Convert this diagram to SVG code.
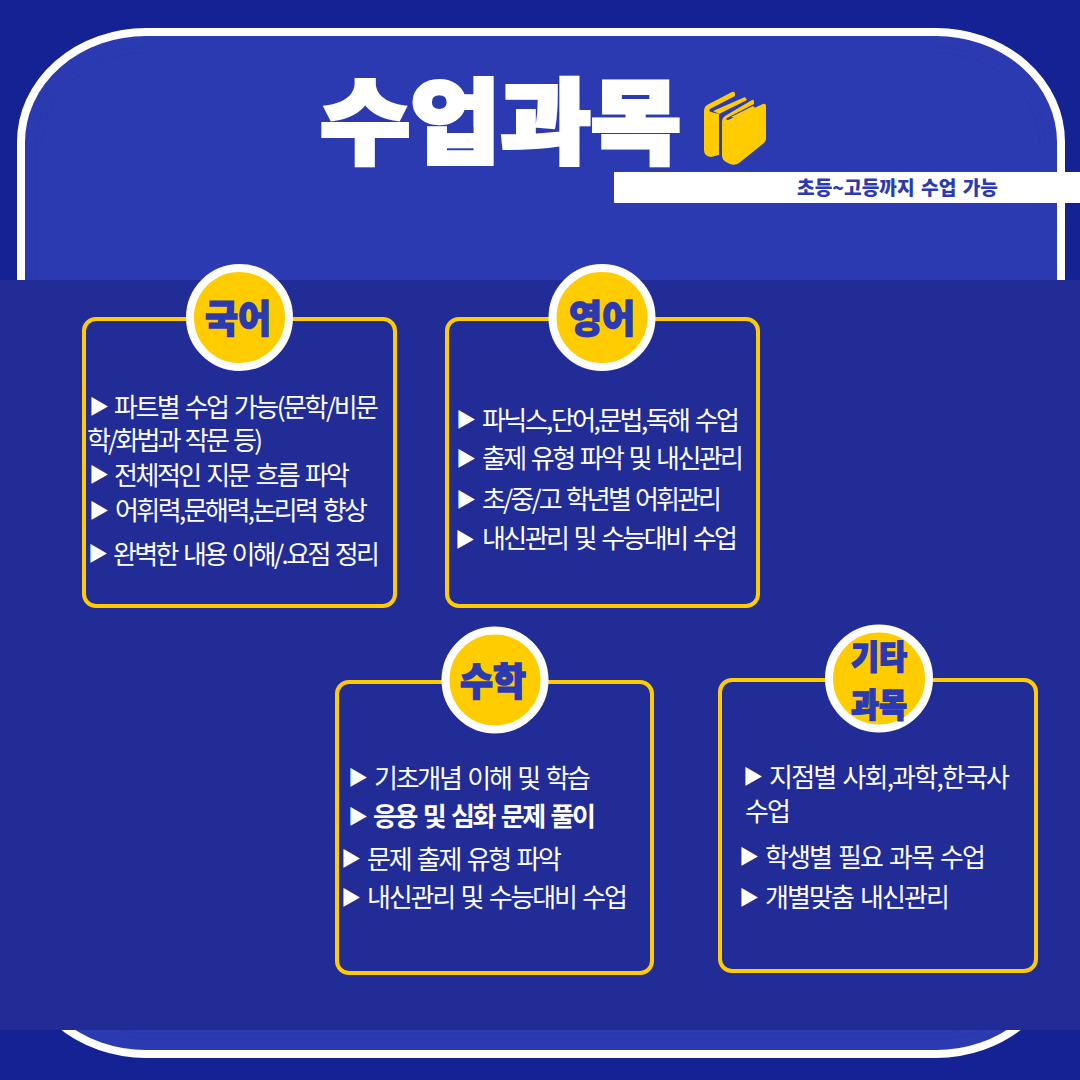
<svg xmlns="http://www.w3.org/2000/svg" width="1080" height="1080" viewBox="0 0 1080 1080">
<style>
text{font-family:"Noto Sans CJK KR","Noto Sans",sans-serif}
.box{fill:none;stroke:#ffcc00;stroke-width:4}
.ring{fill:#ffcc00;stroke:#fff;stroke-width:8}
.h{font-size:38px;font-weight:900;fill:#2c3ab1;stroke:#2c3ab1;stroke-width:1.500}
.h2{font-size:33px;font-weight:900;fill:#2c3ab1;stroke:#2c3ab1;stroke-width:1.500}
.b{font-size:26px;font-weight:400;fill:#fff;word-spacing:3px}
.t{font-size:20px;fill:#fff}
.bk{fill:#ffcc00}
</style>
<rect width="1080" height="1080" fill="#152294"/>
<path d="M146 32H936A125 110 0 0 1 1061 142V944A125 110 0 0 1 936 1054H146A125 110 0 0 1 21 944V142A125 110 0 0 1 146 32Z" fill="#2c3ab1" stroke="#fff" stroke-width="8"/>
<g fill="none" stroke="#2a38ae" stroke-width="1">
<path d="M146 47H936A110 100 0 0 1 1046 147V939A110 100 0 0 1 936 1039H146A110 100 0 0 1 36 939V147A110 100 0 0 1 146 47Z"/>
<path d="M146 53H936A104 94 0 0 1 1040 147V939A104 94 0 0 1 936 1033H146A104 94 0 0 1 42 939V147A104 94 0 0 1 146 53Z"/>
</g>
<rect y="280" width="1080" height="750" fill="#222c96"/>
<g id="title">
<text x="320" y="156" font-size="92" font-weight="900" fill="#fff" stroke="#fff" stroke-width="4" textLength="361" lengthAdjust="spacingAndGlyphs">수업과목</text>
</g>
<g id="books">
<path class="bk" d="M704 110Q704 107 707 105L732 92Q735 91 735 94L735 96L710 109Q708 111 711 112L719 114L719 155L711 157Q704 156 704 150Z"/>
<path class="bk" d="M713 111L745 97L747 100L719 114Z"/>
<path class="bk" d="M722 122Q722 118 725 116L752 100Q754 99 754 102L754 104L727 118Q725 120 728 120L763 104Q766 103 766 106L766 139Q766 141 764 143L739 163Q735 166 730 164L726 162Q722 160 722 155Z"/>
<path class="bk" d="M731 117L753 106L755 108L735 118Z"/>
</g>
<g id="subtitle">
<rect x="614" y="172" width="466" height="31" fill="#fff"/>
<text x="797" y="195" font-size="19" font-weight="900" fill="#2c3ab1" word-spacing="2" textLength="201" lengthAdjust="spacingAndGlyphs">초등~고등까지 수업 가능</text>
</g>
<g id="korean">
<rect class="box" x="84" y="319" width="311" height="287" rx="12"/>
<circle class="ring" cx="239.500" cy="317.500" r="49.500"/>
<text class="h" x="205" y="332" textLength="66" lengthAdjust="spacingAndGlyphs">국어</text>
<text class="t" x="89" y="414">▶</text><text class="b" x="114" y="417" textLength="265">파트별 수업 가능(문학/비문</text>
<text class="b" x="87" y="450" textLength="176">학/화법과 작문 등)</text>
<text class="t" x="89" y="482">▶</text><text class="b" x="114" y="485" textLength="236">전체적인 지문 흐름 파악</text>
<text class="t" x="89" y="518">▶</text><text class="b" x="115" y="520" textLength="253">어휘력,문해력,논리력 향상</text>
<text class="t" x="88" y="561">▶</text><text class="b" x="113" y="564" textLength="267">완벽한 내용 이해/.요점 정리</text>
</g>
<g id="english">
<rect class="box" x="447" y="319" width="311" height="287" rx="12"/>
<circle class="ring" cx="602" cy="317.500" r="49.500"/>
<text class="h" x="569" y="332" textLength="66" lengthAdjust="spacingAndGlyphs">영어</text>
<text class="t" x="456" y="427">▶</text><text class="b" x="482" y="430" textLength="258">파닉스,단어,문법,독해 수업</text>
<text class="t" x="456" y="466">▶</text><text class="b" x="482" y="468" textLength="262">출제 유형 파악 및 내신관리</text>
<text class="t" x="456" y="507">▶</text><text class="b" x="482" y="509" textLength="240">초/중/고 학년별 어휘관리</text>
<text class="t" x="455" y="547">▶</text><text class="b" x="482" y="548" textLength="256">내신관리 및 수능대비 수업</text>
</g>
<g id="math">
<rect class="box" x="337" y="682" width="315" height="291" rx="12"/>
<circle class="ring" cx="495" cy="680" r="49.500"/>
<text class="h" x="460" y="695" textLength="66" lengthAdjust="spacingAndGlyphs">수학</text>
<text class="t" x="348" y="785">▶</text><text class="b" x="374" y="788" textLength="217">기초개념 이해 및 학습</text>
<text class="t" x="348" y="824">▶</text><text class="b" x="373" y="826" style="font-weight:700" textLength="223">응용 및 심화 문제 풀이</text>
<text class="t" x="341" y="866">▶</text><text class="b" x="367" y="869" textLength="195">문제 출제 유형 파악</text>
<text class="t" x="341" y="905">▶</text><text class="b" x="367" y="907" textLength="261">내신관리 및 수능대비 수업</text>
</g>
<g id="other">
<rect class="box" x="720" y="680" width="316" height="291" rx="12"/>
<circle class="ring" cx="879" cy="678.500" r="50"/>
<text class="h2" x="851" y="669" textLength="56" lengthAdjust="spacingAndGlyphs">기타</text>
<text class="h2" x="851" y="717" textLength="56" lengthAdjust="spacingAndGlyphs">과목</text>
<text class="t" x="743" y="784">▶</text><text class="b" x="769" y="787" textLength="241">지점별 사회,과학,한국사</text>
<text class="b" x="745" y="821" textLength="46">수업</text>
<text class="t" x="739" y="864">▶</text><text class="b" x="765" y="867" textLength="221">학생별 필요 과목 수업</text>
<text class="t" x="739" y="905">▶</text><text class="b" x="765" y="907" textLength="185">개별맞춤 내신관리</text>
</g>
</svg>
